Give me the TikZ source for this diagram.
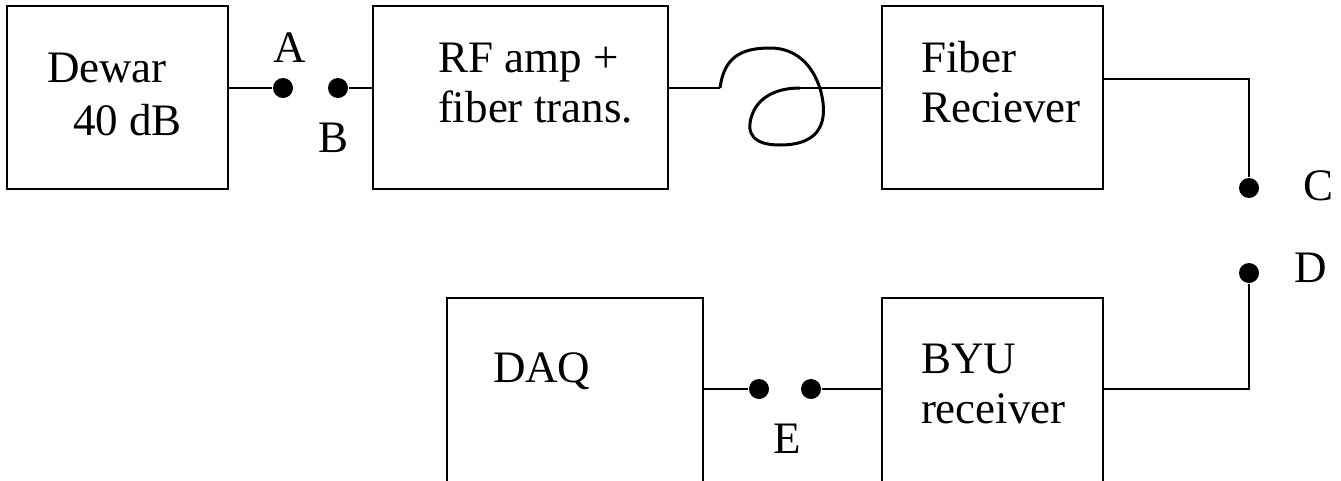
\documentclass[tikz,border=0pt]{standalone}
\usepackage{fontspec}
\setmainfont{Liberation Serif}
\begin{document}
\begin{tikzpicture}[x=1pt, y=-1pt, line width=2pt,
  bloco/.style={draw, inner sep=0pt, minimum width=#1, minimum height=183pt},
  blocobaixo/.style={draw, inner sep=0pt, minimum width=#1, minimum height=240pt},
  ponto/.style={circle, fill, inner sep=0pt, minimum size=20pt},
  rotulo/.style={font=\fontsize{45}{50}\selectfont, inner sep=0pt, anchor=base},
  texto/.style={rotulo, anchor=base west, align=left}]

  % Moldura
  \useasboundingbox (0,0) rectangle (1341,480);
  \clip (0,0) rectangle (1341,480);

  % Blocos
  \node[bloco=221pt] (dewar)   at (117.5,97.5) {};
  \node[bloco=295pt] (rfamp)   at (520.5,97.5) {};
  \node[bloco=221pt] (fiberrx) at (992.5,97.5) {};
  \node[blocobaixo=256pt] (daq)   at (575,418)   {};
  \node[blocobaixo=221pt] (byurx) at (992.5,418) {};

  % Textos dos blocos (base = última linha)
  \node[texto, font=\fontsize{45}{53}\selectfont] (txtdewar) at (46,135)
    {Dewar\\\hspace{26pt}40 dB};
  \node[texto] (txtrf)    at (437,122) {RF amp +\\fiber trans.};
  \node[texto] (txtfiber) at (920,122) {Fiber\\Reciever};
  \node[texto] (txtdaq)   at (492,382) {DAQ};
  \node[texto] (txtbyu)   at (920,423) {BYU\\receiver};

  % Pontos de teste
  \node[ponto] (dotA)  at (283,88)  {};
  \node[ponto] (dotB)  at (338,88)  {};
  \node[ponto] (dotC)  at (1249,188) {};
  \node[ponto] (dotD)  at (1249,273) {};
  \node[ponto] (dotEa) at (759,389) {};
  \node[ponto] (dotEb) at (811,389) {};

  % Rótulos dos pontos
  \node[rotulo] (lblA) at (290,62)   {A};
  \node[rotulo] (lblB) at (334,152)  {B};
  \node[rotulo] (lblC) at (1318,200) {C};
  \node[rotulo] (lblD) at (1311,282) {D};
  \node[rotulo] (lblE) at (787,453)  {E};

  % Cantos das ligações
  \coordinate (loopin)  at (720,88);
  \coordinate (loopout) at (800,88);
  \coordinate (cturn)   at (1249,79);
  \coordinate (dturn)   at (1249,389);

  % Ligações
  \draw (dewar.east |- dotA) -- (dotA);
  \draw (dotB) -- (rfamp.west |- dotB);
  \draw (rfamp.east |- loopin) -- (loopin);
  \draw[line width=3pt] (loopin)
    .. controls (724,58) and (740,48) .. (770,48)
    .. controls (800,48) and (815,70) .. (821,92)
    .. controls (828,120) and (822,145) .. (780,145)
    .. controls (755,145) and (745,135) .. (752,115)
    .. controls (758,98) and (775,88) .. (loopout);
  \draw (loopout) -- (fiberrx.west |- loopout);
  \draw (fiberrx.east |- cturn) -- (cturn) -- (dotC);
  \draw (dotD) -- (dturn) -- (byurx.east |- dturn);
  \draw (daq.east |- dotEa) -- (dotEa);
  \draw (dotEb) -- (byurx.west |- dotEb);

\end{tikzpicture}
\end{document}
